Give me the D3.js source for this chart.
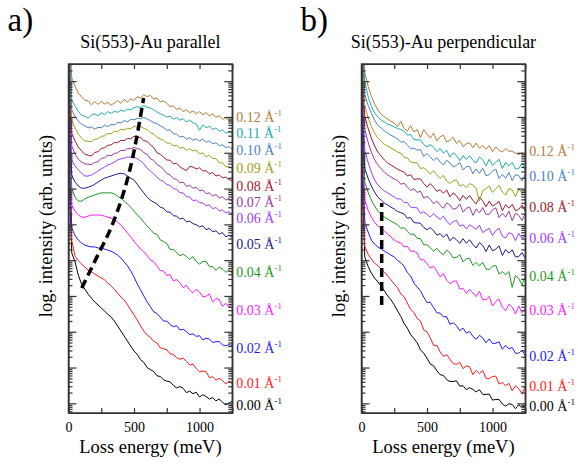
<!DOCTYPE html>
<html><head><meta charset="utf-8">
<script src="https://cdn.jsdelivr.net/npm/d3@7/dist/d3.min.js"></script>
<style>body{margin:0;background:#fff;} svg text{font-family:"Liberation Serif","Times New Roman",serif;}</style>
</head><body><svg id="c" width="578" height="466" font-family="Liberation Serif, Times New Roman, serif"></svg>
<script>
// Loss energies (meV) at which each spectrum is sampled
const energies = [0,12,25,50,75,100,125,150,175,200,225,250,275,300,325,350,375,400,425,450,475,500,525,550,575,600,625,650,675,700,725,750,775,800,825,850,875,900,925,950,975,1000,1025,1050,1075,1100,1125,1150,1175,1200,1225,1250];
// momentum transfer labels (Å^-1)
const momenta = ["0.00","0.01","0.02","0.03","0.04","0.05","0.06","0.07","0.08","0.09","0.10","0.11","0.12"];
const colors = ["#000000","#ff1a1a","#1a1aff","#ff1aff","#1f961f","#1a1a8a","#9b3cff","#9a3a9a","#a01a2c","#a0a020","#4a7fc4","#22aaaa","#b87a36"];

// log10 intensity (arb. units, spectra offset) — parallel
const par00 = [10.5,5.6,4.20,3.95,3.58,3.33,3.19,3.05,2.94,2.83,2.75,2.66,2.58,2.49,2.41,2.30,2.16,2.02,1.88,1.74,1.60,1.46,1.37,1.22,1.14,1.00,0.94,0.89,0.77,0.75,0.66,0.62,0.60,0.50,0.43,0.47,0.42,0.30,0.34,0.27,0.31,0.18,0.24,0.19,0.12,0.16,0.07,0.12,0.03,-0.04,0.01,0.06];
const par01 = [10.5,6.0,4.55,4.11,3.98,3.89,3.81,3.72,3.67,3.61,3.56,3.50,3.45,3.36,3.28,3.19,3.08,2.97,2.89,2.75,2.61,2.47,2.33,2.16,2.02,1.91,1.84,1.73,1.69,1.55,1.53,1.50,1.38,1.37,1.28,1.23,1.26,1.17,1.07,1.10,0.97,0.88,0.90,0.89,0.72,0.74,0.65,0.70,0.64,0.54,0.62,0.55];
const par02 = [10.5,6.4,4.90,4.68,4.56,4.48,4.42,4.39,4.37,4.37,4.34,4.34,4.31,4.28,4.25,4.20,4.14,4.06,3.95,3.84,3.70,3.53,3.33,3.17,3.00,2.83,2.70,2.56,2.51,2.41,2.30,2.30,2.20,2.14,2.17,2.05,2.07,2.00,1.92,1.94,1.87,1.89,1.77,1.82,1.80,1.70,1.72,1.73,1.63,1.61,1.64,1.62];
const par03 = [10.5,6.8,5.54,5.37,5.26,5.20,5.20,5.23,5.26,5.26,5.26,5.26,5.23,5.20,5.18,5.12,5.06,4.98,4.87,4.76,4.65,4.53,4.42,4.31,4.23,4.13,4.00,3.96,3.84,3.71,3.70,3.57,3.60,3.42,3.46,3.37,3.23,3.30,3.16,3.09,3.19,3.11,2.98,2.99,3.06,2.83,2.93,2.90,2.70,2.80,2.69,2.77];
const par04 = [10.5,7.2,6.01,5.76,5.65,5.65,5.71,5.76,5.79,5.82,5.85,5.88,5.88,5.88,5.88,5.85,5.79,5.73,5.65,5.57,5.48,5.37,5.26,5.18,5.06,4.95,4.86,4.75,4.72,4.57,4.52,4.47,4.30,4.30,4.22,4.12,4.17,4.10,4.02,4.10,3.96,3.89,3.96,3.97,3.82,3.82,3.71,3.81,3.75,3.66,3.74,3.62];
const par05 = [10.5,7.6,6.38,6.18,6.07,6.01,6.01,6.04,6.07,6.12,6.18,6.24,6.29,6.32,6.35,6.38,6.41,6.43,6.41,6.35,6.29,6.24,6.12,5.99,5.88,5.76,5.68,5.62,5.57,5.48,5.45,5.35,5.34,5.24,5.23,5.15,5.17,5.07,5.09,5.02,4.99,4.93,4.96,4.85,4.89,4.79,4.82,4.73,4.77,4.65,4.70,4.63];
const par06 = [10.5,8.0,6.80,6.63,6.52,6.43,6.35,6.35,6.38,6.43,6.49,6.55,6.60,6.66,6.69,6.74,6.80,6.83,6.85,6.88,6.88,6.88,6.83,6.77,6.69,6.57,6.49,6.41,6.32,6.24,6.20,6.11,6.09,6.00,5.98,5.88,5.88,5.77,5.77,5.66,5.68,5.60,5.60,5.52,5.55,5.44,5.47,5.38,5.40,5.32,5.35,5.28];
const par07 = [10.5,8.4,7.19,6.96,6.82,6.74,6.69,6.68,6.67,6.73,6.75,6.84,6.86,6.93,6.92,6.98,7.00,7.07,7.06,7.12,7.11,7.15,7.11,7.10,7.00,6.96,6.83,6.79,6.67,6.62,6.53,6.42,6.38,6.28,6.26,6.16,6.18,6.06,6.09,6.01,6.03,5.94,5.96,5.86,5.88,5.79,5.83,5.74,5.77,5.68,5.72,5.64];
const par08 = [10.5,8.8,7.55,7.33,7.16,7.05,6.96,6.93,6.91,7.01,7.03,7.12,7.14,7.21,7.22,7.29,7.28,7.35,7.34,7.40,7.39,7.46,7.42,7.43,7.34,7.32,7.22,7.15,7.00,6.96,6.88,6.80,6.79,6.69,6.71,6.61,6.55,6.50,6.62,6.60,6.55,6.58,6.49,6.50,6.41,6.45,6.35,6.38,6.30,6.32,6.25,6.22];
const par09 = [10.5,9.2,7.91,7.69,7.52,7.41,7.33,7.32,7.31,7.38,7.39,7.46,7.47,7.54,7.53,7.60,7.59,7.66,7.64,7.68,7.67,7.74,7.71,7.74,7.68,7.65,7.56,7.53,7.43,7.39,7.35,7.27,7.27,7.19,7.21,7.13,7.15,7.07,7.11,7.05,7.08,6.97,7.00,6.89,6.93,6.84,6.84,6.72,6.72,6.60,6.62,6.53];
const par10 = [10.5,9.5,8.19,8.02,7.88,7.80,7.75,7.70,7.72,7.66,7.71,7.70,7.77,7.73,7.79,7.78,7.85,7.83,7.90,7.86,7.93,7.92,7.96,7.95,7.99,7.94,7.90,7.84,7.82,7.75,7.71,7.63,7.64,7.53,7.52,7.44,7.46,7.38,7.42,7.35,7.39,7.33,7.38,7.29,7.33,7.25,7.28,7.20,7.22,7.15,7.17,7.10];
const par11 = [10.5,9.8,8.47,8.30,8.16,8.05,8.02,7.97,8.05,8.09,8.03,8.12,8.06,8.15,8.10,8.16,8.13,8.19,8.16,8.22,8.20,8.26,8.29,8.26,8.32,8.27,8.25,8.20,8.14,8.09,8.05,8.00,8.02,7.94,7.98,7.91,7.95,7.86,7.91,7.84,7.80,7.63,7.78,7.70,7.74,7.65,7.69,7.60,7.64,7.55,7.58,7.52];
const par12 = [10.5,10.0,9.09,8.86,8.67,8.56,8.47,8.45,8.34,8.43,8.35,8.44,8.36,8.41,8.33,8.39,8.46,8.38,8.49,8.41,8.51,8.46,8.57,8.53,8.62,8.57,8.60,8.50,8.53,8.42,8.45,8.38,8.29,8.31,8.21,8.25,8.15,8.20,8.12,8.17,8.09,8.15,8.06,8.12,8.03,8.09,7.99,8.04,7.93,7.98,7.89,7.88];

// log10 intensity — perpendicular
const per00 = [10.5,5.5,4.09,3.83,3.64,3.50,3.39,3.28,3.14,3.00,2.89,2.75,2.58,2.43,2.23,2.10,1.92,1.81,1.69,1.50,1.40,1.26,1.10,1.05,0.91,0.80,0.78,0.66,0.61,0.61,0.63,0.48,0.49,0.38,0.44,0.39,0.32,0.38,0.25,0.25,0.26,0.09,0.11,0.11,-0.02,-0.08,-0.01,-0.03,-0.15,-0.04,-0.12,-0.05];
const per01 = [10.5,5.9,4.39,4.17,4.03,3.92,3.84,3.75,3.67,3.56,3.45,3.33,3.23,3.06,2.98,2.80,2.62,2.54,2.37,2.30,2.05,2.00,1.83,1.62,1.62,1.44,1.31,1.36,1.23,1.11,1.09,1.15,0.97,1.05,1.02,0.80,0.92,0.83,0.92,0.70,0.69,0.75,0.76,0.54,0.58,0.49,0.56,0.35,0.49,0.41,0.27,0.47];
const per02 = [10.5,6.5,5.06,4.79,4.56,4.45,4.37,4.31,4.25,4.20,4.14,4.09,3.99,3.93,3.83,3.65,3.56,3.36,3.25,3.15,2.96,2.82,2.82,2.68,2.53,2.52,2.42,2.42,2.21,2.25,2.17,2.03,2.10,1.96,2.01,1.87,1.79,1.90,1.83,1.69,1.80,1.67,1.68,1.72,1.51,1.62,1.52,1.56,1.40,1.40,1.49,1.33];
const per03 = [10.5,7.0,5.68,5.40,5.20,5.06,4.95,4.90,4.81,4.73,4.65,4.56,4.51,4.48,4.37,4.39,4.25,4.25,4.20,4.01,4.01,3.90,3.78,3.83,3.69,3.53,3.63,3.44,3.34,3.41,3.42,3.19,3.21,3.07,3.19,3.08,2.98,3.13,2.89,2.90,2.99,2.72,2.85,2.91,2.69,2.59,2.77,2.69,2.50,2.72,2.53,2.64];
const per04 = [10.5,7.4,6.18,5.90,5.68,5.51,5.37,5.29,5.20,5.15,5.09,5.04,4.99,4.89,4.91,4.81,4.72,4.73,4.61,4.60,4.43,4.43,4.35,4.25,4.33,4.22,4.15,4.28,4.20,4.06,4.08,4.15,3.95,4.04,4.05,3.85,3.94,3.84,3.94,3.75,3.74,3.83,3.85,3.61,3.68,3.59,3.68,3.24,3.57,3.49,3.31,3.55];
const per05 = [10.5,7.8,6.57,6.29,6.07,5.90,5.76,5.68,5.59,5.54,5.48,5.43,5.36,5.33,5.29,5.17,5.19,5.05,5.04,5.03,4.91,4.85,4.91,4.82,4.70,4.74,4.64,4.73,4.54,4.64,4.57,4.47,4.60,4.47,4.57,4.44,4.34,4.49,4.41,4.24,4.42,4.26,4.31,4.40,4.13,4.30,4.20,4.29,4.09,4.10,4.21,4.05];
const per06 = [10.5,8.2,7.08,6.74,6.46,6.24,6.10,6.01,5.93,5.88,5.82,5.76,5.71,5.71,5.61,5.61,5.48,5.47,5.46,5.31,5.35,5.28,5.20,5.30,5.21,5.14,5.23,5.09,4.99,5.08,5.11,4.95,4.99,4.87,4.99,4.93,4.86,4.98,4.77,4.83,4.89,4.69,4.83,4.89,4.67,4.62,4.77,4.73,4.54,4.75,4.61,4.68];
const per07 = [10.5,8.6,7.64,7.30,7.02,6.80,6.66,6.55,6.46,6.38,6.32,6.27,6.23,6.12,6.15,6.04,5.95,5.99,5.89,5.93,5.73,5.78,5.70,5.58,5.65,5.54,5.45,5.60,5.54,5.42,5.45,5.57,5.34,5.45,5.48,5.25,5.43,5.32,5.47,5.28,5.28,5.41,5.46,5.19,5.31,5.20,5.37,5.10,5.31,5.25,5.11,5.30];
const per08 = [10.5,9.0,8.02,7.69,7.41,7.19,7.02,6.91,6.80,6.71,6.66,6.60,6.54,6.50,6.46,6.35,6.39,6.25,6.27,6.27,6.14,6.04,6.14,6.04,5.92,5.97,5.87,5.96,5.77,5.88,5.80,5.66,5.81,5.70,5.81,5.67,5.57,5.76,5.66,5.49,5.65,5.51,5.57,5.64,5.38,5.55,5.45,5.56,5.38,5.42,5.54,5.36];
const per09 = [10.5,9.3,8.30,7.99,7.74,7.55,7.41,7.33,7.24,7.19,7.13,7.08,7.02,6.99,6.87,6.86,6.74,6.72,6.72,6.56,6.58,6.51,6.40,6.50,6.39,6.28,6.37,6.21,6.14,6.22,6.25,6.07,6.11,6.02,6.14,6.10,6.00,5.65,5.94,6.00,6.07,5.89,6.00,6.09,5.90,5.82,6.00,5.96,5.77,6.00,5.86,5.94];
const per10 = [10.5,9.6,8.61,8.33,8.11,7.91,7.77,7.69,7.61,7.55,7.49,7.44,7.39,7.30,7.31,7.22,7.12,7.13,7.07,7.09,6.90,6.98,6.89,6.78,6.86,6.74,6.66,6.79,6.72,6.60,6.65,6.73,6.52,6.61,6.62,6.41,6.55,6.43,6.57,6.36,6.39,6.49,6.54,6.28,6.39,6.29,6.45,6.22,6.39,6.36,6.21,6.40];
const per11 = [10.5,9.9,8.98,8.58,8.30,8.11,8.00,7.91,7.86,7.80,7.77,7.72,7.68,7.65,7.61,7.49,7.51,7.37,7.36,7.36,7.23,7.16,7.23,7.16,7.03,7.12,6.99,7.07,6.88,7.00,6.92,6.78,6.92,6.81,6.92,6.79,6.72,6.88,6.81,6.63,6.82,6.65,6.74,6.82,6.56,6.73,6.63,6.73,6.55,6.56,6.71,6.50];
const per12 = [10.5,10.2,9.25,8.86,8.58,8.36,8.19,8.08,8.00,7.94,7.88,7.83,7.73,7.88,7.68,7.61,7.76,7.58,7.65,7.42,7.65,7.52,7.41,7.55,7.33,7.45,7.49,7.30,7.35,7.43,7.26,7.34,7.17,7.25,7.28,7.14,7.27,7.13,7.20,7.10,7.20,7.03,7.16,7.07,7.02,7.12,7.04,7.05,6.99,6.95,7.00,6.95];

const parallel = [par00,par01,par02,par03,par04,par05,par06,par07,par08,par09,par10,par11,par12];
const perpendicular = [per00,per01,per02,per03,per04,per05,per06,per07,per08,per09,per10,per11,per12];

// label positions (log10 intensity) at the right edge
const parLabelIdx = [0,1,2,3,4,5,6,7,8,9,10,11,12];
const parLabelPos = [-0.05,0.56,1.54,2.61,3.65,4.45,5.17,5.60,6.05,6.55,7.08,7.54,7.98];
const perLabelIdx = [0,1,2,3,4,6,8,10,12];
const perLabelPos = [-0.09,0.46,1.30,2.61,3.54,4.62,5.46,6.33,7.03];

// plasmon dispersion guide (parallel) and flat guide (perpendicular)
const dispE = [101,202,317,408,477,531,573];
const dispV = [3.22,3.98,4.84,5.74,6.66,7.64,8.53];
const flatE = [154,154];
const flatV = [2.75,5.60];

const xTicks = [0,250,500,750,1000,1250];
const xTickLabels = [0,500,1000];

const FONT = 'Liberation Serif, Times New Roman, serif';
const svg = d3.select('#c');
const y = d3.scaleLog().domain([Math.pow(10,-0.27), Math.pow(10,9.48)]).range([413,64]);
const frameColor = '#333';

function panel(id, x, series, lblIdx, lblPos, gE, gV, title, tag) {
  const [xl, xr] = x.range();
  const [yb, yt] = y.range();
  const g = svg.append('g').attr('font-family', FONT);
  svg.append('defs').append('clipPath').attr('id','clip'+id)
     .append('rect').attr('x',xl).attr('y',yt).attr('width',xr-xl).attr('height',yb-yt);
  const line = d3.line().x((d,i)=>x(energies[i])).y(d=>y(Math.pow(10,d)));
  const plot = g.append('g').attr('clip-path','url(#clip'+id+')');
  series.forEach((s,k)=>{
    plot.append('path').attr('d',line(s)).attr('fill','none')
      .attr('stroke',colors[k]).attr('stroke-width',1).attr('stroke-linejoin','round');
  });
  const gl = d3.line().x((d,i)=>x(gE[i])).y(d=>y(Math.pow(10,d))).curve(d3.curveMonotoneY);
  plot.append('path').attr('d',gl(gV)).attr('fill','none').attr('stroke','#000')
    .attr('stroke-width',3.5).attr('stroke-dasharray','9,5');

  // axes
  const majors = d3.range(0,10).map(k=>Math.pow(10,k));
  const minors = [];
  for (let k=-1;k<=9;k++) for (let m=2;m<=9;m++){const v=m*Math.pow(10,k); if(v>y.domain()[0]&&v<y.domain()[1]) minors.push(v);}
  function styleAxis(a){a.selectAll('path,line').attr('stroke',frameColor).attr('stroke-width',1.2); a.attr('font-family',FONT);}
  g.append('g').attr('transform',`translate(0,${yb})`)
    .call(d3.axisBottom(x).tickValues(xTicks).tickSizeInner(-5).tickSizeOuter(0).tickPadding(9)
      .tickFormat(d=> xTickLabels.includes(d)? d3.format('d')(d): ''))
    .call(styleAxis).selectAll('text').attr('font-size',14).attr('fill','#000').attr('font-family',FONT);
  g.append('g').attr('transform',`translate(0,${yt})`)
    .call(d3.axisTop(x).tickValues(xTicks).tickSizeInner(-5).tickSizeOuter(0).tickFormat(''))
    .call(styleAxis);
  [[d3.axisLeft,xl],[d3.axisRight,xr]].forEach(([ax,px])=>{
    g.append('g').attr('transform',`translate(${px},0)`)
      .call(ax(y).tickValues(majors).tickSizeInner(-8).tickSizeOuter(0).tickFormat(''))
      .call(styleAxis);
    g.append('g').attr('transform',`translate(${px},0)`)
      .call(ax(y).tickValues(minors).tickSizeInner(-4).tickSizeOuter(0).tickFormat(''))
      .call(styleAxis).select('.domain').remove();
  });
  g.append('rect').attr('x',xl).attr('y',yt).attr('width',xr-xl).attr('height',yb-yt)
    .attr('fill','none').attr('stroke',frameColor).attr('stroke-width',1.5);

  // labels
  lblIdx.forEach((k,j)=>{
    const t = g.append('text').attr('x',xr+4).attr('y',y(Math.pow(10,lblPos[j]))+4.6)
      .attr('font-size',14).attr('fill',colors[k]).attr('font-family',FONT);
    t.append('tspan').text(momenta[k]+' Å');
    t.append('tspan').attr('dy',-6).attr('font-size',9).text('-1');
  });

  const cx = (xl+xr)/2;
  g.append('text').attr('x',cx).attr('y',48).attr('text-anchor','middle').attr('font-size',18).attr('font-family',FONT).text(title);
  g.append('text').attr('x',cx).attr('y',453).attr('text-anchor','middle').attr('font-size',18.5).attr('font-family',FONT).text('Loss energy (meV)');
  g.append('text').attr('transform',`translate(${xl-17},226) rotate(-90)`).attr('text-anchor','middle')
    .attr('font-size',18.5).attr('font-family',FONT).text('log. intensity (arb. units)');
  g.append('text').attr('x',xl-61).attr('y',31).attr('font-size',33).attr('font-family',FONT).text(tag);
}

const xA = d3.scaleLinear().domain([0,1250]).range([68.5,232.3]);
const xB = d3.scaleLinear().domain([0,1250]).range([361.5,525.3]);
panel('A', xA, parallel, parLabelIdx, parLabelPos, dispE, dispV, 'Si(553)-Au parallel', 'a)');
panel('B', xB, perpendicular, perLabelIdx, perLabelPos, flatE, flatV, 'Si(553)-Au perpendicular', 'b)');
</script></body></html>
